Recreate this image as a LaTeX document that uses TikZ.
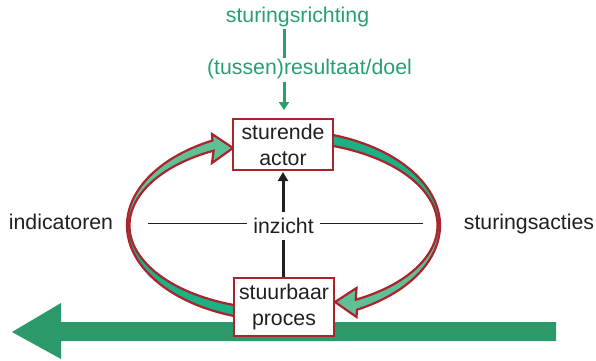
\documentclass[tikz,border=0pt]{standalone}
\usepackage{fontspec}
\setmainfont{Liberation Sans}
\usetikzlibrary{arrows.meta,calc}
\definecolor{boxred}{RGB}{170,35,45}
\definecolor{teal}{RGB}{27,177,132}
\definecolor{lightgreen}{RGB}{95,192,150}
\definecolor{bandgreen}{RGB}{43,153,106}
\definecolor{textgreen}{RGB}{40,160,110}
\definecolor{inkblack}{RGB}{35,31,32}
\begin{document}
\begin{tikzpicture}[x=1pt,y=1pt,
  every node/.style={font=\fontsize{21.3}{26}\selectfont, text=inkblack},
  actorbox/.style={draw=boxred, line width=2pt, fill=white, minimum width=100pt, align=center, inner sep=0pt},
  label/.style={anchor=base, inner sep=0pt},
  greenlabel/.style={anchor=base, inner sep=0pt, text=textgreen},
  rim/.style={draw=boxred, line width=2.2pt, line join=miter},
  insight/.style={draw=inkblack, line width=3pt},
  divider/.style={draw=inkblack, line width=0.9pt},
  goalline/.style={draw=textgreen, line width=3pt}
]
\useasboundingbox (0,0) rectangle (596,360);

% broad process arrow along the bottom
\fill[bandgreen] (556,38) -- (61,38) -- (61,57) -- (12,28) -- (61,1) -- (61,19) -- (556,19) -- cycle;

% left feedback arrow (indicatoren)
\fill[teal] ({283.5+156.5*cos(254)},{134.5+95.4*sin(254)})
  arc[start angle=254, end angle=180, x radius=156.5pt, y radius=95.4pt]
  -- ({283.5-154},134.5)
  arc[start angle=180, end angle=254, x radius=154pt, y radius=84pt] -- cycle;
\fill[lightgreen] (127,134.5)
  arc[start angle=180, end angle=117, x radius=156.5pt, y radius=95.4pt]
  -- (212,226) -- (233,212) -- (212,197)
  -- ({283.5+154*cos(117)},{134.5+84*sin(117)})
  arc[start angle=117, end angle=180, x radius=154pt, y radius=84pt] -- cycle;
\path[rim] ({283.5+156.5*cos(254)},{134.5+95.4*sin(254)})
  arc[start angle=254, end angle=117, x radius=156.5pt, y radius=95.4pt]
  -- (212,226) -- (233,212) -- (212,197)
  -- ({283.5+154*cos(117)},{134.5+84*sin(117)})
  arc[start angle=117, end angle=254, x radius=154pt, y radius=84pt] -- cycle;

% right steering arrow (sturingsacties)
\fill[teal] ({283.5+156.5*cos(74)},{134.5+95.4*sin(74)})
  arc[start angle=74, end angle=0, x radius=156.5pt, y radius=95.4pt]
  -- ({283.5+154},134.5)
  arc[start angle=0, end angle=74, x radius=154pt, y radius=84pt] -- cycle;
\fill[lightgreen] (440,134.5)
  arc[start angle=0, end angle=-62, x radius=156.5pt, y radius=95.4pt]
  -- (356.5,43) -- (335,58) -- (356.5,72)
  -- ({283.5+154*cos(-62)},{134.5+84*sin(-62)})
  arc[start angle=-62, end angle=0, x radius=154pt, y radius=84pt] -- cycle;
\path[rim] ({283.5+156.5*cos(74)},{134.5+95.4*sin(74)})
  arc[start angle=74, end angle=-62, x radius=156.5pt, y radius=95.4pt]
  -- (356.5,43) -- (335,58) -- (356.5,72)
  -- ({283.5+154*cos(-62)},{134.5+84*sin(-62)})
  arc[start angle=-62, end angle=74, x radius=154pt, y radius=84pt] -- cycle;

% the two boxes
\node[actorbox, minimum height=51pt] (actor) at (283,215.5) {sturende\\actor};
\node[actorbox, minimum height=58pt] (proces) at (284,53) {stuurbaar\\proces};

% insight in the middle
\node[inner xsep=6pt, minimum height=28pt] (inz) at (283.5,134) {inzicht};
\coordinate (dl) at (148,137);
\coordinate (dr) at (423,137);
\draw[divider] (dl) -- (dl -| inz.west);
\draw[divider] (dr) -- (dr -| inz.east);
\draw[insight] (proces.north -| 283,0) -- (inz.south -| 283,0);
\draw[insight, -{Triangle[width=10pt,length=9pt]}] (inz.north -| 283,0) -- ([yshift=-1pt]actor.south -| 283,0);

% side labels
\node[label] (ind) at (61,131) {indicatoren};
\node[label] (acties) at (529,131) {sturingsacties};

% steering direction and goal
\node[greenlabel] (richting) at (297.5,338) {sturingsrichting};
\node[greenlabel] (doel) at (309.5,286) {(tussen)resultaat/doel};
\coordinate (g1) at (284,331);
\coordinate (g2) at (284,302);
\coordinate (g3) at (284,278);
\coordinate (g4) at (284,250);
\draw[goalline] (g1) -- (g2);
\draw[goalline, -{Triangle[width=10pt,length=8pt]}] (g3) -- (g4);
\end{tikzpicture}
\end{document}
